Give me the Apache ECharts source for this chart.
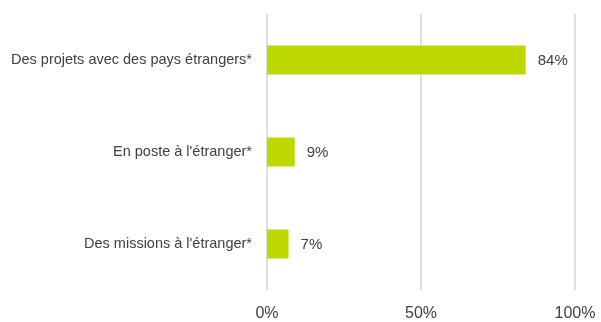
<!DOCTYPE html>
<html>
<head>
<meta charset="utf-8">
<script src="https://cdn.jsdelivr.net/npm/echarts@6/dist/echarts.min.js"></script>
<style>
  html, body { margin: 0; padding: 0; background: #fff; }
  #chart { width: 601px; height: 322px; }
</style>
</head>
<body>
<div id="chart"></div>
<script>
var categories = ["Des projets avec des pays étrangers*", "En poste à l'étranger*", "Des missions à l'étranger*"];
var values = [84, 9, 7];
var xTicks = [0, 50, 100];

var myChart = echarts.init(document.getElementById("chart"));
var option = {
  animation: false,
  grid: { left: 267, right: 26, top: 14, bottom: 32 },
  xAxis: {
    type: "value",
    min: xTicks[0],
    max: xTicks[xTicks.length - 1],
    interval: xTicks[1] - xTicks[0],
    axisLine: { show: false },
    axisTick: { show: false },
    splitLine: { lineStyle: { color: "#d4d4d4", width: 1.5 } },
    axisLabel: {
      formatter: "{value}%",
      color: "#404040",
      fontFamily: "Liberation Sans",
      fontSize: 16,
      margin: 16
    }
  },
  yAxis: {
    type: "category",
    data: categories,
    inverse: true,
    axisLine: { show: false },
    axisTick: { show: false },
    axisLabel: {
      color: "#404040",
      fontFamily: "Liberation Sans",
      fontSize: 14.5,
      margin: 15
    }
  },
  series: [
    {
      type: "bar",
      data: values,
      barWidth: 29,
      itemStyle: { color: "#bdd700" },
      label: {
        show: true,
        position: "right",
        distance: 12,
        formatter: "{c}%",
        color: "#404040",
        fontFamily: "Liberation Sans",
        fontSize: 15,
        offset: [0, 1]
      }
    }
  ]
};
option && myChart.setOption(option);
</script>
</body>
</html>
